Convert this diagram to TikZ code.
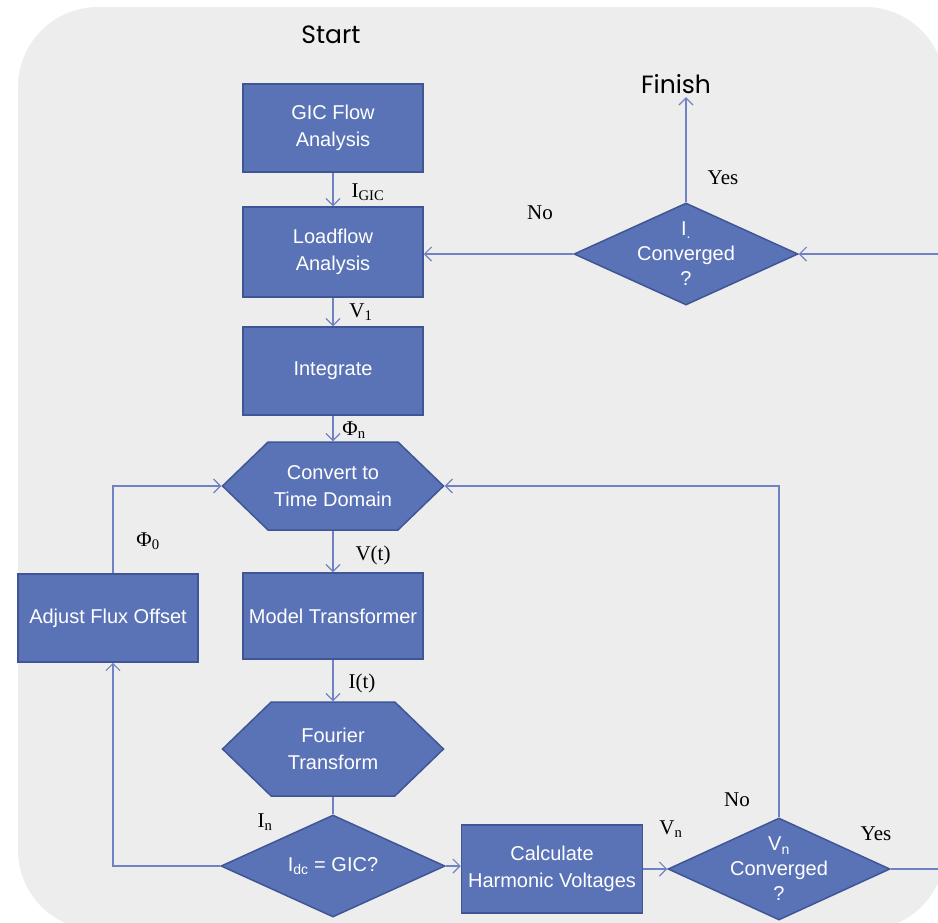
\documentclass[tikz,border=0pt]{standalone}
\usepackage{fontspec}
\setmainfont{Liberation Serif}
\newfontfamily\boxfont{Liberation Sans}
\newfontfamily\endfont{Poppins}
\usetikzlibrary{shapes.geometric, shapes.symbols, arrows.meta}

\definecolor{boxblue}{HTML}{5A73B7}
\definecolor{boxedge}{HTML}{3F5595}
\definecolor{linkblue}{HTML}{7082C4}
\definecolor{panel}{HTML}{EDEDED}

\begin{document}
\begin{tikzpicture}[x=1pt, y=-1pt, >={Straight Barb[length=7pt,width=14pt]}]
    \tikzstyle{block} = [rectangle,minimum width=180pt,minimum height=88pt,text centered,align=center,draw=boxedge,line width=1.5pt,fill=boxblue,text=white,font=\boxfont\fontsize{20}{27}\selectfont]
    \tikzstyle{hexa} = [block,shape=signal,signal to=west and east,signal pointer angle=88,minimum width=221pt]
    \tikzstyle{decision} = [block,diamond,inner sep=0pt,minimum width=224pt,minimum height=102pt]
    \tikzstyle{asktext} = [text=white,align=center,font=\boxfont\fontsize{20}{25}\selectfont]
    \tikzstyle{flow} = [draw=linkblue,line width=1.2pt]
    \tikzstyle{tag} = [font=\fontsize{21}{24}\selectfont]
    \tikzstyle{ends} = [font=\endfont\fontsize{25}{28}\selectfont]

    \useasboundingbox (0,0) rectangle (938,922);
    \clip (0,0) rectangle (938,922);
    \fill [panel, rounded corners=80pt] (18,7) rectangle (945,930);

    \node (start) [ends] at (331,35) {Start};
    \node (finish) [ends] at (676,84) {Finish};

    \node (gic) [block] at (333,128) {GIC Flow\\Analysis};
    \node (loadflow) [block, minimum height=90pt] at (333,252) {Loadflow\\Analysis};
    \node (integrate) [block] at (333,371) {Integrate};
    \node (convert) [hexa] at (333,486) {Convert to\\Time Domain};
    \node (model) [block, minimum height=86pt] at (333,616) {Model Transformer};
    \node (adjust) [block] at (108,618) {Adjust Flux Offset};
    \node (fourier) [hexa, minimum height=94pt] at (333,749) {Fourier\\Transform};
    \node (idc) [decision, label={[asktext]center:I\textsubscript{dc} = GIC?}] at (333,866) {};
    \node (harmonic) [block, minimum width=181pt] at (552,869) {Calculate\\Harmonic Voltages};
    \node (vconv) [decision, minimum width=222pt, label={[asktext]center:V\textsubscript{n}\\Converged\\?}] at (779,869) {};
    \node (iconv) [decision, label={[asktext]center:I\textsubscript{.}\\Converged\\?}] at (686,254) {};

    \coordinate (yesend) at (938,869);
    \coordinate (rightend) at (938,254);

    \draw [flow, ->] (gic.south) -- (loadflow.north);
    \draw [flow, ->] (loadflow.south) -- (integrate.north);
    \draw [flow, ->] (integrate.south) -- (convert.north);
    \draw [flow, ->] (convert.south) -- (model.north);
    \draw [flow, ->] (model.south) -- (fourier.north);
    \draw [flow] (fourier.south) -- (idc.north);

    \draw [flow, ->] (idc.west) -| ([xshift=5pt]adjust.south);
    \draw [flow, ->] ([xshift=5pt]adjust.north) |- (convert.west);
    \draw [flow, ->] (idc.east) -- (idc.east -| harmonic.west);
    \draw [flow, ->] (harmonic.east) -- (vconv.west);
    \draw [flow, ->] (vconv.north) |- (convert.east);
    \draw [flow] (vconv.east) -- (yesend);

    \draw [flow, ->] (rightend) -- (iconv.east);
    \draw [flow, ->] (iconv.west) -- (iconv.west -| loadflow.east);
    \draw [flow, ->] (iconv.north) -- (iconv.north |- finish.south);

    \node (igic) [tag] at (368,192) {I\textsubscript{GIC}};
    \node (v1) [tag] at (361,312) {V\textsubscript{1}};
    \node (phin) [tag] at (354,430) {Φ\textsubscript{n}};
    \node (vt) [tag] at (373,555) {V(t)};
    \node (it) [tag] at (362,683) {I(t)};
    \node (in) [tag] at (265,822) {I\textsubscript{n}};
    \node (phi0) [tag] at (148,541) {Φ\textsubscript{0}};
    \node (vn) [tag] at (671,829) {V\textsubscript{n}};
    \node (nobottom) [tag] at (737,800) {No};
    \node (yesbottom) [tag] at (876,834) {Yes};
    \node (notop) [tag] at (540,213) {No};
    \node (yestop) [tag] at (723,178) {Yes};
\end{tikzpicture}
\end{document}
